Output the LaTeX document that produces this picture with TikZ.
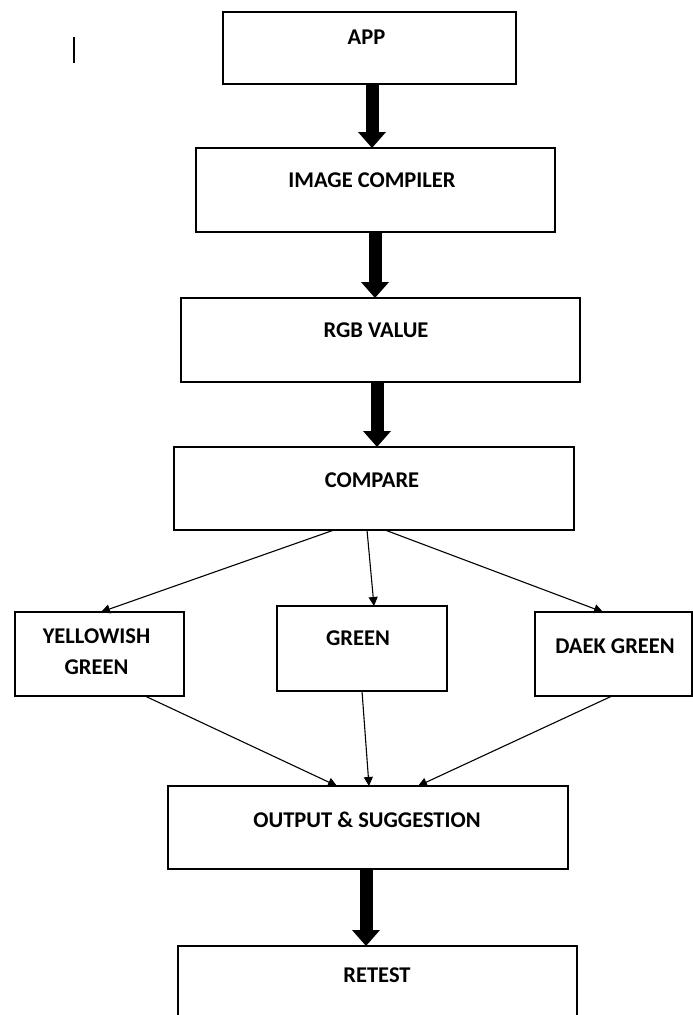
\documentclass[tikz,border=0pt]{standalone}
\usepackage{fontspec}
\setmainfont{Carlito}
\usetikzlibrary{arrows.meta}
\begin{document}
\begin{tikzpicture}[x=1pt,y=-1pt,
  box/.style={draw=black, line width=1.3pt, anchor=north west, inner sep=0pt, outer sep=0pt},
  lbl/.style={anchor=base, inner sep=0pt, font=\fontsize{22.5}{27}\selectfont\bfseries},
  fat/.style={line width=13pt, -{Triangle[width=27pt,length=16pt]}},
  slim/.style={line width=1.1pt, -{Triangle[width=9pt,length=9pt]}}]
\useasboundingbox (0,0) rectangle (693,1015);
\clip (0,0) rectangle (693,1015);
% stray mark
\draw[line width=1.2pt] (74,37) -- (74,63);
% boxes
\node[box, minimum width=293pt, minimum height=72pt] (app) at (223,12) {};
\node[box, minimum width=359pt, minimum height=84pt] (ic) at (196,148) {};
\node[box, minimum width=399pt, minimum height=84pt] (rgb) at (181,298) {};
\node[box, minimum width=400pt, minimum height=83pt] (cmp) at (174,447) {};
\node[box, minimum width=169pt, minimum height=84pt] (yel) at (15,612) {};
\node[box, minimum width=170pt, minimum height=85pt] (grn) at (277,606) {};
\node[box, minimum width=157pt, minimum height=84pt] (dak) at (535,612) {};
\node[box, minimum width=400pt, minimum height=83pt] (out) at (168,786) {};
\node[box, minimum width=399pt, minimum height=110pt] (ret) at (178,946) {};
% labels
\node[lbl] (appt) at (366.5,44) {APP};
\node[lbl] (ict) at (372,187) {IMAGE COMPILER};
\node[lbl] (rgbt) at (376,337) {RGB VALUE};
\node[lbl] (cmpt) at (372,487) {COMPARE};
\node[lbl] (yelt1) at (96.5,643) {YELLOWISH};
\node[lbl] (yelt2) at (96.5,674) {GREEN};
\node[lbl] (grnt) at (358,645) {GREEN};
\node[lbl] (dakt) at (615,653) {DAEK GREEN};
\node[lbl] (outt) at (367,827) {OUTPUT \& SUGGESTION};
\node[lbl] (rett) at (377,982) {RETEST};
% thick arrows
\draw[fat] ([xshift=2.5pt]app.south) -- ([xshift=2.5pt]app.south |- ic.north);
\draw[fat] ([xshift=-0.5pt]ic.south) -- ([xshift=-0.5pt]ic.south |- rgb.north);
\draw[fat] ([xshift=-3.5pt]rgb.south) -- ([xshift=-3.5pt]rgb.south |- cmp.north);
\draw[fat] ([xshift=-2pt]out.south) -- ([xshift=-2pt]out.south |- ret.north);
% thin arrows
\draw[slim] ([xshift=-40pt]cmp.south) -- ([xshift=1.5pt]yel.north);
\draw[slim] ([xshift=-7pt]cmp.south) -- ([xshift=12pt]grn.north);
\draw[slim] ([xshift=11pt]cmp.south) -- ([xshift=-10.5pt]dak.north);
\draw[slim] ([xshift=45.5pt]yel.south) -- ([xshift=-31pt]out.north);
\draw[slim] (grn.south) -- ([xshift=1pt]out.north);
\draw[slim] ([xshift=-1.5pt]dak.south) -- ([xshift=50pt]out.north);
\end{tikzpicture}
\end{document}
